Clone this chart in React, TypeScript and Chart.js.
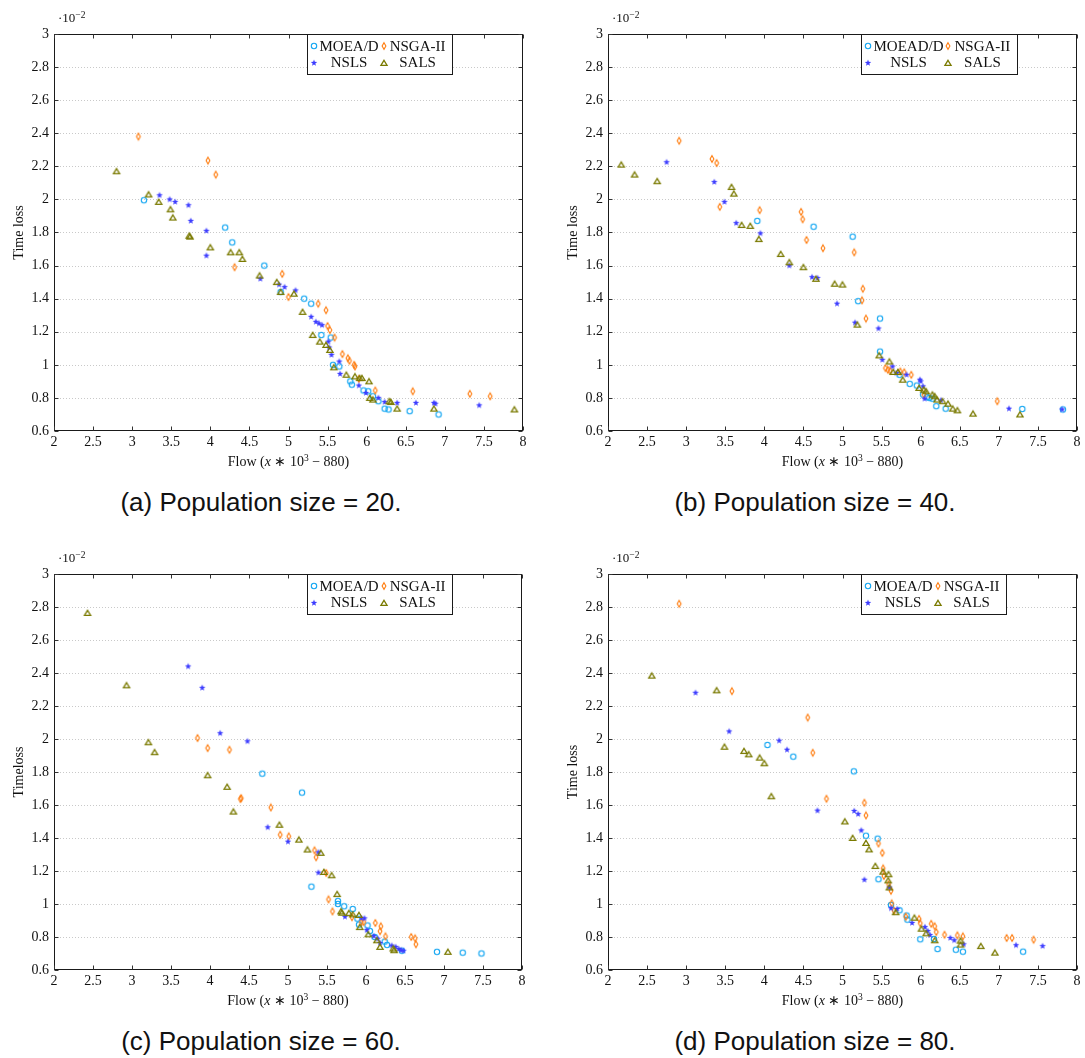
import React, { useEffect, useRef } from "react";
import { Chart, registerables } from "chart.js";

Chart.register(...registerables);

// ---------- axis ticks ----------
const X_TICKS = [2, 2.5, 3, 3.5, 4, 4.5, 5, 5.5, 6, 6.5, 7, 7.5, 8];
const Y_TICKS = [0.6, 0.8, 1, 1.2, 1.4, 1.6, 1.8, 2, 2.2, 2.4, 2.6, 2.8, 3];

// ---------- legends / labels ----------
const LEGEND_STD = ["MOEA/D", "NSGA-II", "NSLS", "SALS"];
const LEGEND_B = ["MOEAD/D", "NSGA-II", "NSLS", "SALS"];
const CAPTIONS = ["(a) Population size = 20.", "(b) Population size = 40.", "(c) Population size = 60.", "(d) Population size = 80."];
const Y_TITLES = ["Time loss", "Time loss", "Timeloss", "Time loss"];

// ---------- data: [flow, time loss] ----------
const A_MOEAD: number[][] = [[3.15,1.995],[4.19,1.83],[4.28,1.74],[4.69,1.60],[4.90,1.44],[5.20,1.40],[5.29,1.37],[5.42,1.18],[5.54,1.165],[5.57,1.0],[5.65,0.99],[5.79,0.90],[5.81,0.88],[5.96,0.845],[6.02,0.84],[6.08,0.81],[6.15,0.78],[6.23,0.735],[6.28,0.73],[6.55,0.72],[6.92,0.70]];
const A_NSGA: number[][] = [[3.08,2.38],[3.97,2.235],[4.07,2.15],[4.31,1.59],[4.92,1.55],[5.0,1.41],[5.38,1.37],[5.48,1.33],[5.50,1.235],[5.53,1.21],[5.59,1.165],[5.69,1.065],[5.76,1.04],[5.78,1.025],[5.84,1.0],[5.85,0.99],[5.90,0.915],[6.11,0.845],[6.59,0.84],[7.32,0.825],[7.58,0.81]];
const A_NSLS: number[][] = [[3.35,2.025],[3.48,2.0],[3.55,1.985],[3.72,1.965],[3.75,1.87],[3.95,1.81],[3.95,1.66],[4.64,1.52],[4.88,1.485],[4.95,1.47],[5.09,1.45],[5.29,1.29],[5.35,1.26],[5.39,1.25],[5.43,1.24],[5.51,1.14],[5.52,1.105],[5.55,1.06],[5.65,1.02],[5.66,0.945],[5.90,0.875],[5.99,0.83],[6.15,0.80],[6.23,0.775],[6.39,0.77],[6.63,0.77],[6.86,0.77],[6.88,0.765],[7.44,0.755]];
const A_SALS: number[][] = [[2.80,2.17],[3.21,2.03],[3.34,1.985],[3.49,1.94],[3.52,1.89],[3.73,1.78],[3.74,1.775],[4.00,1.71],[4.26,1.68],[4.37,1.68],[4.41,1.64],[4.63,1.54],[4.85,1.50],[4.90,1.44],[5.07,1.43],[5.18,1.32],[5.31,1.18],[5.40,1.14],[5.48,1.12],[5.53,1.09],[5.58,0.985],[5.74,0.94],[5.85,0.93],[5.91,0.92],[5.94,0.92],[6.03,0.90],[6.04,0.80],[6.08,0.79],[6.29,0.78],[6.31,0.775],[6.39,0.735],[6.86,0.735],[7.89,0.73]];

const B_MOEAD: number[][] = [[3.91,1.87],[4.63,1.835],[5.13,1.775],[5.20,1.385],[5.48,1.28],[5.48,1.08],[5.73,0.94],[5.86,0.885],[5.95,0.875],[6.03,0.82],[6.08,0.805],[6.11,0.80],[6.15,0.795],[6.20,0.75],[6.32,0.735],[7.30,0.733],[7.82,0.73]];
const B_NSGA: number[][] = [[2.91,2.355],[3.33,2.245],[3.39,2.22],[3.43,1.955],[3.94,1.935],[4.47,1.925],[4.49,1.88],[4.54,1.755],[4.75,1.705],[5.15,1.68],[5.26,1.46],[5.25,1.39],[5.30,1.28],[5.55,0.98],[5.58,0.97],[5.61,0.965],[5.74,0.96],[5.79,0.955],[5.88,0.94],[6.04,0.82],[6.98,0.78]];
const B_NSLS: number[][] = [[2.75,2.225],[3.36,2.105],[3.49,1.985],[3.64,1.857],[3.95,1.795],[4.32,1.60],[4.61,1.53],[4.68,1.525],[4.93,1.37],[5.16,1.255],[5.46,1.22],[5.51,1.03],[5.64,0.99],[5.69,0.95],[5.82,0.94],[5.99,0.91],[6.00,0.90],[6.03,0.87],[6.05,0.795],[6.26,0.785],[7.13,0.735],[7.81,0.73]];
const B_SALS: number[][] = [[2.17,2.21],[2.34,2.15],[2.63,2.11],[3.58,2.075],[3.61,2.035],[3.71,1.845],[3.82,1.84],[3.93,1.76],[4.21,1.67],[4.32,1.62],[4.50,1.59],[4.66,1.52],[4.90,1.49],[5.00,1.485],[5.19,1.243],[5.47,1.057],[5.60,1.02],[5.65,0.957],[5.71,0.957],[5.77,0.91],[5.98,0.86],[6.04,0.85],[6.07,0.84],[6.15,0.82],[6.18,0.81],[6.21,0.79],[6.28,0.78],[6.35,0.765],[6.41,0.735],[6.47,0.725],[6.67,0.705],[7.27,0.70]];

const C_MOEAD: number[][] = [[4.67,1.79],[5.18,1.675],[5.30,1.105],[5.64,1.018],[5.64,1.0],[5.72,0.986],[5.83,0.97],[5.89,0.911],[5.91,0.875],[6.02,0.87],[6.05,0.836],[6.11,0.80],[6.24,0.772],[6.27,0.752],[6.46,0.717],[6.91,0.71],[7.24,0.705],[7.48,0.70]];
const C_NSGA: number[][] = [[3.84,2.006],[3.97,1.945],[4.25,1.935],[4.39,1.636],[4.40,1.642],[4.78,1.585],[4.90,1.42],[5.01,1.41],[5.34,1.325],[5.36,1.283],[5.49,1.188],[5.52,1.028],[5.57,0.955],[5.82,0.92],[5.94,0.89],[5.97,0.89],[6.12,0.885],[6.19,0.865],[6.18,0.835],[6.25,0.804],[6.58,0.80],[6.63,0.792],[6.64,0.756]];
const C_NSLS: number[][] = [[3.72,2.44],[3.90,2.31],[4.13,2.035],[4.48,1.986],[4.74,1.465],[5.00,1.378],[5.39,1.313],[5.39,1.19],[5.73,0.923],[5.94,0.915],[5.98,0.913],[6.01,0.842],[6.10,0.806],[6.15,0.79],[6.18,0.764],[6.33,0.748],[6.38,0.74],[6.42,0.727],[6.45,0.72],[6.48,0.717]];
const C_SALS: number[][] = [[2.43,2.764],[2.93,2.325],[3.21,1.98],[3.29,1.92],[3.97,1.78],[4.22,1.71],[4.30,1.56],[4.89,1.48],[5.14,1.39],[5.25,1.33],[5.42,1.31],[5.46,1.194],[5.56,1.174],[5.63,1.06],[5.68,0.955],[5.69,0.947],[5.78,0.945],[5.83,0.937],[5.91,0.933],[5.92,0.86],[6.03,0.816],[6.14,0.78],[6.18,0.74],[6.35,0.73],[6.36,0.72],[7.05,0.71]];

const D_MOEAD: number[][] = [[4.04,1.964],[4.37,1.893],[5.145,1.804],[5.30,1.414],[5.45,1.396],[5.46,1.15],[5.62,0.994],[5.73,0.962],[5.82,0.93],[5.83,0.905],[5.995,0.786],[6.17,0.788],[6.216,0.727],[6.45,0.723],[6.54,0.711],[7.31,0.711]];
const D_NSGA: number[][] = [[2.91,2.82],[3.585,2.29],[4.555,2.13],[4.62,1.917],[4.795,1.638],[5.28,1.614],[5.30,1.537],[5.46,1.367],[5.51,1.31],[5.52,1.216],[5.53,1.17],[5.59,1.12],[5.62,1.08],[5.63,1.004],[5.66,0.96],[5.81,0.923],[5.98,0.91],[5.995,0.883],[6.135,0.88],[6.18,0.865],[6.20,0.83],[6.305,0.814],[6.47,0.81],[6.54,0.804],[7.10,0.794],[7.17,0.794],[7.445,0.784]];
const D_NSLS: number[][] = [[3.12,2.28],[3.55,2.046],[4.19,1.99],[4.29,1.935],[4.68,1.566],[5.15,1.564],[5.20,1.545],[5.24,1.446],[5.28,1.147],[5.60,1.10],[5.62,0.974],[5.70,0.97],[5.89,0.885],[6.055,0.86],[6.09,0.836],[6.12,0.812],[6.38,0.794],[6.43,0.78],[6.55,0.756],[7.22,0.75],[7.56,0.745]];
const D_SALS: number[][] = [[2.56,2.384],[3.39,2.295],[3.49,1.953],[3.74,1.927],[3.80,1.907],[3.94,1.887],[4.00,1.853],[4.09,1.653],[5.03,1.50],[5.13,1.40],[5.30,1.37],[5.34,1.331],[5.42,1.23],[5.52,1.196],[5.59,1.18],[5.585,1.143],[5.60,1.10],[5.68,0.95],[5.92,0.917],[6.01,0.85],[6.07,0.822],[6.18,0.78],[6.51,0.778],[6.51,0.754],[6.77,0.745],[6.95,0.705]];

// ---------- styles ----------
const SERIES_COLORS = ["#12a6f2", "#ff7d10", "#3c3cff", "#7a7a00"];
const MARKER_KINDS = ["circle", "diamond", "star", "triangle"];
const SERIF = '"Liberation Serif", "Times New Roman", serif';

type PanelCfg = {
  id: string;
  left: number; top: number; w: number; h: number;
  plotL: number; plotT: number; plotR: number; plotB: number;
  series: number[][][];
  legend: string[];
  yTitle: string;
  caption: string;
  capX: number; capY: number;
};

const PANELS: PanelCfg[] = [
  { id: "a", left: 0, top: 0, w: 545, h: 480, plotL: 54, plotT: 34, plotR: 523, plotB: 431, series: [A_MOEAD, A_NSGA, A_NSLS, A_SALS], legend: LEGEND_STD, yTitle: Y_TITLES[0], caption: CAPTIONS[0], capX: 261, capY: 502 },
  { id: "b", left: 554, top: 0, w: 531, h: 480, plotL: 54, plotT: 34, plotR: 523, plotB: 431, series: [B_MOEAD, B_NSGA, B_NSLS, B_SALS], legend: LEGEND_B, yTitle: Y_TITLES[1], caption: CAPTIONS[1], capX: 815, capY: 502 },
  { id: "c", left: 0, top: 540, w: 545, h: 480, plotL: 54, plotT: 34, plotR: 522, plotB: 430, series: [C_MOEAD, C_NSGA, C_NSLS, C_SALS], legend: LEGEND_STD, yTitle: Y_TITLES[2], caption: CAPTIONS[2], capX: 261, capY: 1041 },
  { id: "d", left: 554, top: 540, w: 531, h: 480, plotL: 54, plotT: 34, plotR: 523, plotB: 430, series: [D_MOEAD, D_NSGA, D_NSLS, D_SALS], legend: LEGEND_STD, yTitle: Y_TITLES[3], caption: CAPTIONS[3], capX: 815, capY: 1041 },
];

function fmt(v: number): string {
  return String(Number(Number(v).toFixed(2)));
}

function makeMarker(kind: string, color: string): HTMLCanvasElement {
  const c = document.createElement("canvas");
  const S = 10;
  c.width = S; c.height = S;
  const g = c.getContext("2d")!;
  g.translate(S / 2, S / 2);
  g.lineWidth = 1.1;
  g.strokeStyle = color;
  g.fillStyle = color;
  g.beginPath();
  if (kind === "circle") {
    g.arc(0, 0, 2.7, 0, Math.PI * 2);
    g.stroke();
  } else if (kind === "diamond") {
    g.moveTo(0, -3.3); g.lineTo(1.9, 0); g.lineTo(0, 3.3); g.lineTo(-1.9, 0); g.closePath();
    g.stroke();
  } else if (kind === "star") {
    for (let k = 0; k < 10; k++) {
      const r = k % 2 === 0 ? 3.4 : 1.4;
      const a = -Math.PI / 2 + (k * Math.PI) / 5;
      g.lineTo(r * Math.cos(a), r * Math.sin(a));
    }
    g.closePath();
    g.fill();
  } else {
    g.lineWidth = 1.25;
    g.moveTo(0, -2.7); g.lineTo(3.1, 2.3); g.lineTo(-3.1, 2.3); g.closePath();
    g.stroke();
  }
  return c;
}

type Part = { t: string; size: number; italic?: boolean; dy?: number };
function drawRich(ctx: CanvasRenderingContext2D, parts: Part[], x: number, y: number, center: boolean) {
  const fontOf = (p: Part) => `${p.italic ? "italic " : ""}${p.size}px ${SERIF}`;
  let total = 0;
  const ws = parts.map((p) => { ctx.font = fontOf(p); const w = ctx.measureText(p.t).width; total += w; return w; });
  let cx = center ? x - total / 2 : x;
  ctx.textAlign = "left";
  ctx.textBaseline = "alphabetic";
  parts.forEach((p, i) => { ctx.font = fontOf(p); ctx.fillText(p.t, cx, y + (p.dy || 0)); cx += ws[i]; });
}

function decoPlugin(p: PanelCfg, markers: HTMLCanvasElement[]) {
  return {
    id: "deco_" + p.id,
    beforeDatasetsDraw(chart: any) {
      const { ctx, chartArea: ca, scales } = chart;
      const ys = scales.y;
      ctx.save();
      ctx.strokeStyle = "#c9c9c9";
      ctx.lineWidth = 1;
      ctx.setLineDash([1, 2]);
      for (const v of Y_TICKS) {
        if (v <= Y_TICKS[0] || v >= Y_TICKS[Y_TICKS.length - 1]) continue;
        const py = Math.round(ys.getPixelForValue(v)) + 0.5;
        ctx.beginPath(); ctx.moveTo(ca.left, py); ctx.lineTo(ca.right, py); ctx.stroke();
      }
      ctx.restore();
    },
    afterDatasetsDraw(chart: any) {
      const { ctx, chartArea: ca, scales } = chart;
      const xs = scales.x, ys = scales.y;
      ctx.save();
      // frame
      const L = Math.round(ca.left) + 0.5, R = Math.round(ca.right) - 0.5;
      const T = Math.round(ca.top) + 0.5, B = Math.round(ca.bottom) - 0.5;
      ctx.strokeStyle = "#1a1a1a";
      ctx.lineWidth = 1;
      ctx.strokeRect(L, T, R - L, B - T);
      // inward tick marks
      ctx.strokeStyle = "#333";
      const TL = 4;
      for (const v of X_TICKS) {
        const px = Math.round(xs.getPixelForValue(v)) + 0.5;
        ctx.beginPath(); ctx.moveTo(px, B); ctx.lineTo(px, B - TL); ctx.moveTo(px, T); ctx.lineTo(px, T + TL); ctx.stroke();
      }
      for (const v of Y_TICKS) {
        const py = Math.round(ys.getPixelForValue(v)) + 0.5;
        ctx.beginPath(); ctx.moveTo(L, py); ctx.lineTo(L + TL, py); ctx.moveTo(R, py); ctx.lineTo(R - TL, py); ctx.stroke();
      }
      // legend
      ctx.font = `15px ${SERIF}`;
      const lab = p.legend;
      const w1 = Math.max(ctx.measureText(lab[0]).width, ctx.measureText(lab[2]).width);
      const w2 = Math.max(ctx.measureText(lab[1]).width, ctx.measureText(lab[3]).width);
      const lx = Math.round(ca.left + 253) + 0.5;
      const ly = Math.round(ca.top) + 0.5;
      const boxW = Math.round(12 + w1 + 11 + w2 + 7);
      const boxH = 40;
      ctx.fillStyle = "#fff";
      ctx.fillRect(lx, ly, boxW, boxH);
      ctx.strokeStyle = "#1a1a1a";
      ctx.strokeRect(lx, ly, boxW, boxH);
      const rows = [ly + 11.7, ly + 28.3];
      const m1 = lx + 6, t1 = lx + 12 + w1 / 2;
      const m2 = lx + 12 + w1 + 5, t2 = m2 + 6 + w2 / 2;
      const slots = [[m1, t1, rows[0]], [m2, t2, rows[0]], [m1, t1, rows[1]], [m2, t2, rows[1]]];
      ctx.fillStyle = "#111";
      ctx.textAlign = "center";
      ctx.textBaseline = "middle";
      slots.forEach(([mx, tx, ry], i) => {
        const mk = markers[i];
        ctx.drawImage(mk, Math.round(mx - mk.width / 2), Math.round(ry - mk.height / 2));
        ctx.fillText(lab[i], tx, ry + 0.5);
      });
      // titles
      ctx.fillStyle = "#111";
      drawRich(ctx, [
        { t: "Flow (", size: 14 },
        { t: "x", size: 14, italic: true },
        { t: " \u2217 10", size: 14 },
        { t: "3", size: 9.5, dy: -5.5 },
        { t: " \u2212 880)", size: 14 },
      ], (ca.left + ca.right) / 2, ca.bottom + 35, true);
      drawRich(ctx, [
        { t: "\u00b710", size: 13 },
        { t: "\u22122", size: 9.5, dy: -4.5 },
      ], ca.left + 4, ca.top - 12, false);
      ctx.translate(ca.left - 35, (ca.top + ca.bottom) / 2);
      ctx.rotate(-Math.PI / 2);
      ctx.font = `14px ${SERIF}`;
      ctx.textAlign = "center";
      ctx.textBaseline = "middle";
      ctx.fillText(p.yTitle, 0, 0);
      ctx.restore();
    },
  };
}

function buildConfig(p: PanelCfg): any {
  const markers = MARKER_KINDS.map((k, i) => makeMarker(k, SERIES_COLORS[i]));
  const tickFont = { family: SERIF, size: 14 };
  return {
    type: "scatter",
    data: {
      datasets: p.series.map((pts, i) => ({
        label: p.legend[i],
        data: pts.map(([x, y]) => ({ x, y })),
        pointStyle: markers[i],
        pointRadius: 3,
        borderColor: SERIES_COLORS[i],
        backgroundColor: SERIES_COLORS[i],
        order: 3 - i,
      })),
    },
    options: {
      animation: false,
      responsive: false,
      events: [],
      layout: { padding: { left: 0, top: p.plotT, right: p.w - p.plotR, bottom: 0 } },
      plugins: { legend: { display: false }, tooltip: { enabled: false } },
      scales: {
        x: {
          type: "linear",
          position: "bottom",
          min: X_TICKS[0],
          max: X_TICKS[X_TICKS.length - 1],
          afterBuildTicks: (s: any) => { s.ticks = X_TICKS.map((v) => ({ value: v })); },
          afterFit: (s: any) => { s.height = p.h - p.plotB; },
          grid: { display: false, drawTicks: false },
          border: { display: false },
          ticks: { autoSkip: false, maxRotation: 0, minRotation: 0, padding: 3, color: "#111", font: tickFont, callback: (v: number) => fmt(v) },
        },
        y: {
          type: "linear",
          position: "left",
          min: Y_TICKS[0],
          max: Y_TICKS[Y_TICKS.length - 1],
          afterBuildTicks: (s: any) => { s.ticks = Y_TICKS.map((v) => ({ value: v })); },
          afterFit: (s: any) => { s.width = p.plotL; },
          grid: { display: false, drawTicks: false },
          border: { display: false },
          ticks: { autoSkip: false, padding: 5, color: "#111", font: tickFont, callback: (v: number) => fmt(v) },
        },
      },
    },
    plugins: [decoPlugin(p, markers)],
  };
}

function Panel({ p }: { p: PanelCfg }) {
  const ref = useRef<HTMLCanvasElement | null>(null);
  useEffect(() => {
    let chart: Chart | null = null;
    let dead = false;
    const build = () => {
      if (dead || !ref.current) return;
      chart = new Chart(ref.current, buildConfig(p));
    };
    const fonts = (document as any).fonts;
    if (fonts && fonts.load) {
      Promise.all([
        fonts.load(`14px "Liberation Serif"`),
        fonts.load(`italic 14px "Liberation Serif"`),
      ]).then(build, build);
    } else {
      build();
    }
    return () => {
      dead = true;
      if (chart) chart.destroy();
    };
  }, [p]);
  return (
    <>
      <canvas
        ref={ref}
        width={p.w}
        height={p.h}
        style={{ position: "absolute", left: p.left, top: p.top, width: p.w, height: p.h }}
      />
      <div
        style={{
          position: "absolute",
          left: p.capX - 250,
          top: p.capY - 17,
          width: 500,
          height: 34,
          lineHeight: "34px",
          textAlign: "center",
          fontFamily: '"Liberation Sans", Arial, sans-serif',
          fontSize: 26,
          color: "#111",
          whiteSpace: "nowrap",
        }}
      >
        {p.caption}
      </div>
    </>
  );
}

export default function App() {
  return (
    <div
      style={{
        position: "absolute",
        left: 0,
        top: 0,
        width: 1085,
        height: 1058,
        background: "#fff",
        overflow: "hidden",
      }}
    >
      {PANELS.map((p) => (
        <Panel key={p.id} p={p} />
      ))}
    </div>
  );
}
